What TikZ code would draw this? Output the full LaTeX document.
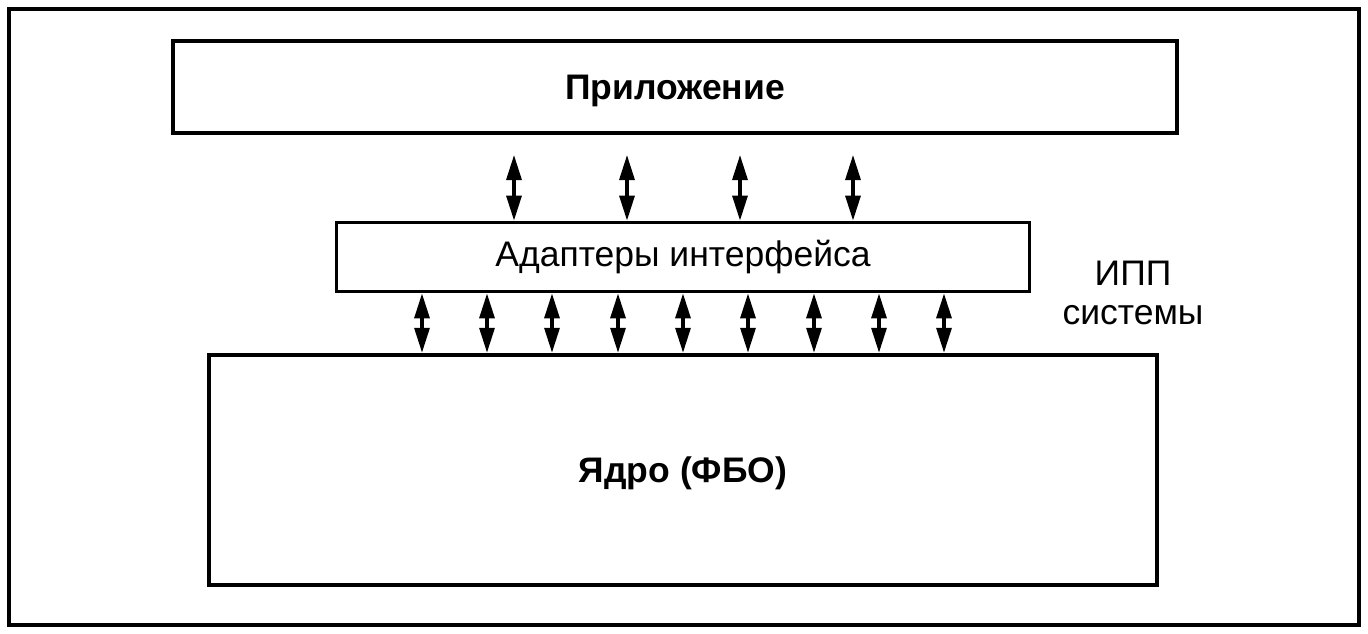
\documentclass[tikz,border=0pt]{standalone}
\usepackage{fontspec}
\setmainfont{Liberation Sans}
\usetikzlibrary{arrows.meta}
\begin{document}
\begin{tikzpicture}[x=1pt,y=-1pt,
  box/.style={draw=black,line width=4.5pt,inner sep=0pt},
  dbl/.style={line width=3.2pt,{Triangle[length=25pt,width=15pt]}-{Triangle[length=25pt,width=15pt]}},
  lbl/.style={font=\fontsize{35.5}{40}\selectfont},
  blbl/.style={font=\bfseries\fontsize{35.5}{40}\selectfont,text depth=0pt}]
\useasboundingbox (0,0) rectangle (1368,634);
\draw[line width=4.5pt] (9,9) rectangle (1359,625);
\node[box,minimum width=1004pt,minimum height=92pt,blbl] (app) at (675,87) {Приложение};
\node[box,line width=3.8pt,minimum width=693pt,minimum height=69pt,lbl] (adp) at (683,257) {Адаптеры интерфейса};
\node[box,minimum width=948pt,minimum height=230pt,blbl] (core) at (683,470) {Ядро (ФБО)};
\node[lbl,align=center,inner sep=0pt] (ipp) at (1133,293) {ИПП\\[-1pt]системы};
\foreach \x in {514,627,740,853}{
  \coordinate (t\x) at (\x,155);
  \draw[dbl] (t\x) -- (t\x |- adp.north);
}
\foreach \x in {422,487,552,618,683,748,814,879,944}{
  \draw[dbl] (\x,0 |- adp.south) -- (\x,0 |- core.north);
}
\end{tikzpicture}
\end{document}
